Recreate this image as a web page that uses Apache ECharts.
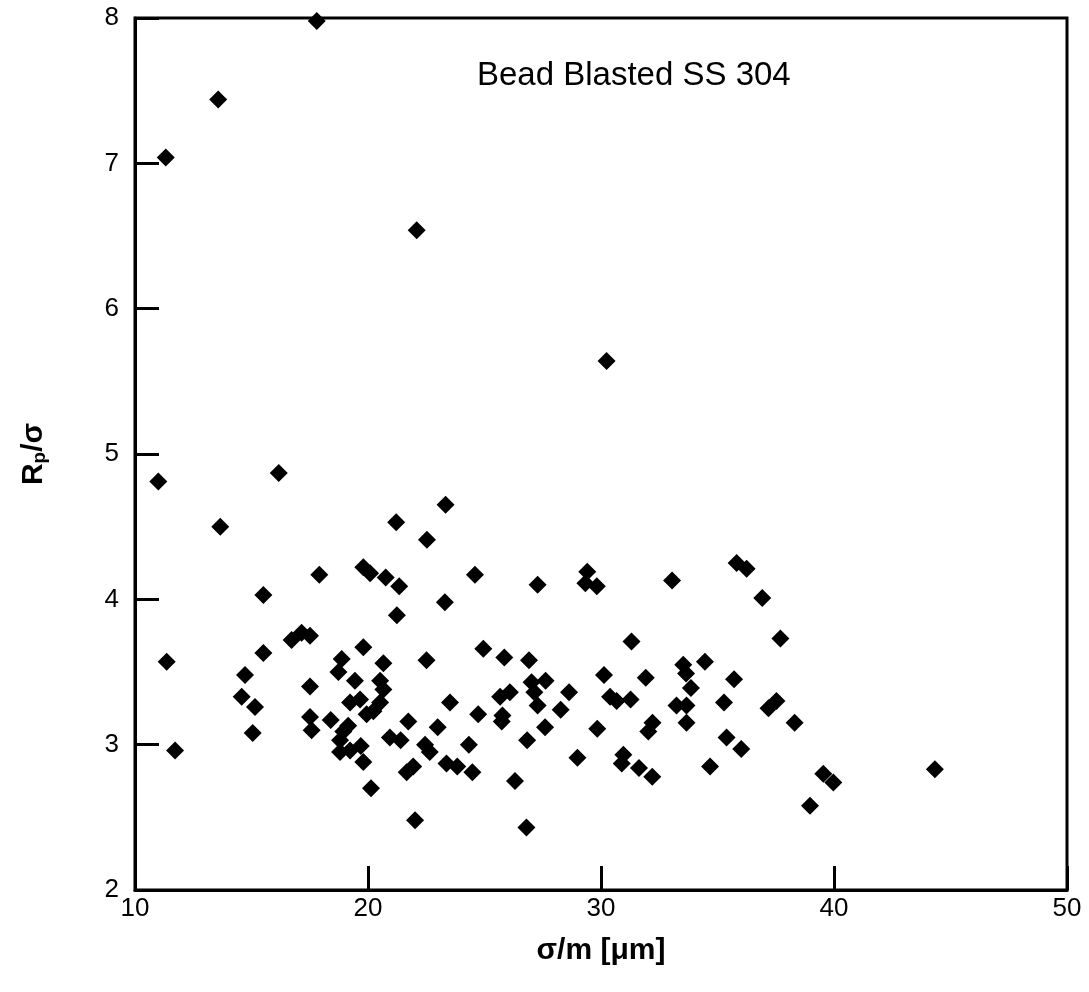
<!DOCTYPE html>
<html><head><meta charset="utf-8">
<script src="https://cdn.jsdelivr.net/npm/echarts@6/dist/echarts.min.js"></script>
<style>html,body{margin:0;padding:0;background:#fff}#c{width:1089px;height:992px}</style>
</head><body><div id="c"></div>
<script>
// sigma/m [um]
const sigmaM = [
  17.8, 13.57, 11.32, 22.09, 30.24, 11.0, 16.17, 13.66, 21.21, 23.33,
  22.53, 17.91, 19.80, 20.09, 20.76, 21.34, 15.51, 21.24, 24.59, 27.28,
  29.41, 29.33, 29.82, 33.05, 35.82, 36.25, 23.30, 36.92, 37.70, 31.31,
  35.71, 35.28, 37.19, 37.53, 38.31, 35.39, 36.02, 44.33, 39.54, 39.97,
  38.97, 22.51, 24.95, 25.85, 26.91, 34.46, 33.53, 33.65, 33.86, 30.13,
  31.92, 27.02, 27.62, 27.14, 27.28, 28.63, 26.09, 25.67, 30.39, 30.67,
  31.27, 33.24, 33.67, 23.52, 24.73, 25.77, 25.74, 28.27, 21.73, 22.99,
  27.60, 29.84, 32.21, 32.03, 33.67, 21.40, 22.45, 22.65, 24.33, 26.83,
  21.66, 21.94, 23.37, 23.83, 24.48, 26.31, 28.99, 30.96, 30.89, 31.63,
  32.20, 34.68, 22.02, 26.80, 11.36, 11.72, 15.51, 14.72, 14.58, 15.15,
  15.05, 16.72, 17.15, 17.51, 17.51, 17.51, 17.58, 18.40, 19.80, 18.87,
  18.73, 19.44, 20.66, 20.52, 20.66, 20.52, 19.23, 19.66, 19.94, 20.23,
  19.15, 18.94, 18.80, 18.80, 19.23, 19.69, 19.80, 20.13, 20.94
];
// Rp/sigma
const rpSigma = [
  7.98, 7.44, 7.04, 6.54, 5.64, 4.81, 4.87, 4.50, 4.53, 4.65,
  4.41, 4.17, 4.22, 4.18, 4.15, 4.09, 4.03, 3.89, 4.17, 4.10,
  4.19, 4.11, 4.09, 4.13, 4.25, 4.21, 3.98, 4.01, 3.73, 3.71,
  3.45, 3.29, 3.25, 3.30, 3.15, 3.05, 2.97, 2.83, 2.80, 2.74,
  2.58, 3.58, 3.66, 3.60, 3.58, 3.57, 3.55, 3.49, 3.39, 3.48,
  3.46, 3.43, 3.44, 3.36, 3.27, 3.36, 3.36, 3.33, 3.33, 3.30,
  3.31, 3.27, 3.27, 3.29, 3.21, 3.20, 3.16, 3.24, 3.16, 3.12,
  3.12, 3.11, 3.15, 3.09, 3.15, 3.03, 3.00, 2.95, 3.00, 3.03,
  2.81, 2.85, 2.87, 2.85, 2.81, 2.75, 2.91, 2.93, 2.87, 2.84,
  2.78, 2.85, 2.48, 2.43, 3.57, 2.96, 3.63, 3.48, 3.33, 3.26,
  3.08, 3.72, 3.77, 3.75, 3.40, 3.19, 3.10, 3.17, 3.67, 3.59,
  3.50, 3.44, 3.56, 3.44, 3.38, 3.29, 3.29, 3.31, 3.21, 3.23,
  3.13, 3.09, 3.03, 2.95, 2.96, 2.99, 2.88, 2.70, 3.05
];
const xAxisRange = [10, 50];
const yAxisRange = [2, 8];
const chartTitle = 'Bead Blasted SS 304';

const points = sigmaM.map((x, i) => [x, rpSigma[i]]);
const FONT = '"Liberation Sans", Arial, sans-serif';

const chart = echarts.init(document.getElementById('c'), null, {renderer: 'canvas'});
chart.setOption({
  backgroundColor: '#fff',
  animation: false,
  grid: {left: 135, right: 22, top: 18, bottom: 102, show: true, borderColor: '#000', borderWidth: 3, backgroundColor: 'transparent'},
  title: {
    text: chartTitle, left: 472, top: 54,
    textStyle: {fontFamily: FONT, fontSize: 33, fontWeight: 'normal', color: '#000'}
  },
  xAxis: {
    type: 'value', min: xAxisRange[0], max: xAxisRange[1], interval: 10,
    name: 'σ/m [μm]', nameLocation: 'middle', nameGap: 46,
    nameTextStyle: {fontFamily: FONT, fontSize: 30, fontWeight: 'bold', color: '#000'},
    axisLine: {show: true, lineStyle: {color: '#000', width: 3}},
    axisTick: {show: true, inside: true, length: 24, lineStyle: {color: '#000', width: 3}},
    axisLabel: {fontFamily: FONT, fontSize: 26, color: '#000', margin: 6},
    splitLine: {show: false}
  },
  yAxis: {
    type: 'value', min: yAxisRange[0], max: yAxisRange[1], interval: 1,
    name: '{b|R}{s|p}{b|/σ}', nameLocation: 'middle', nameGap: 86, nameRotate: 90,
    nameTextStyle: {
      color: '#000',
      rich: {
        b: {fontFamily: FONT, fontSize: 30, fontWeight: 'bold', color: '#000', lineHeight: 30, verticalAlign: 'top'},
        s: {fontFamily: FONT, fontSize: 19, fontWeight: 'bold', color: '#000', lineHeight: 19, padding: [14, 0, 0, 0], verticalAlign: 'bottom'}
      }
    },
    axisLine: {show: true, lineStyle: {color: '#000', width: 3}},
    axisTick: {show: true, inside: true, length: 24, lineStyle: {color: '#000', width: 3}},
    axisLabel: {fontFamily: FONT, fontSize: 26, color: '#000', margin: 16},
    splitLine: {show: false}
  },
  series: [{
    type: 'scatter',
    data: points,
    symbol: 'diamond',
    symbolSize: 18,
    itemStyle: {color: '#000', opacity: 1},
    clip: false
  }]
});
</script>
</body></html>
